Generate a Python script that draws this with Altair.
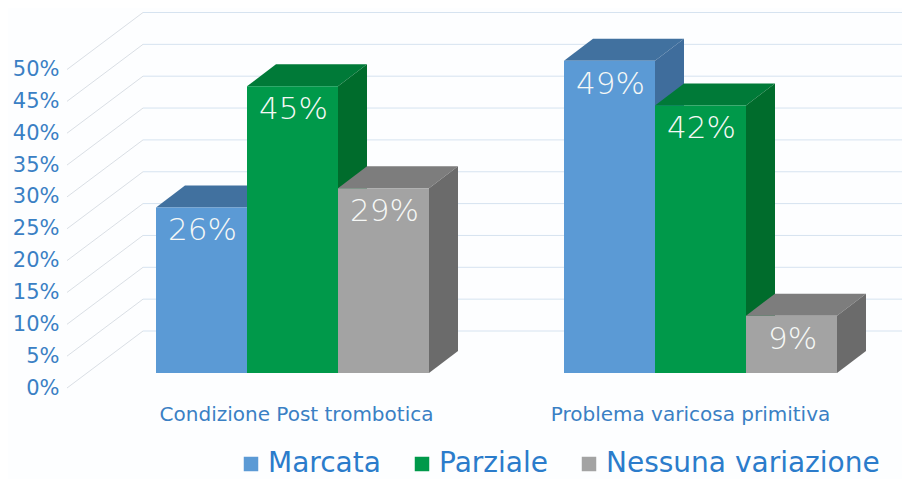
import altair as alt
import pandas as pd

categories = ["Condizione Post trombotica", "Problema varicosa primitiva"]
series = ["Marcata", "Parziale", "Nessuna variazione"]
marcata = [26, 49]
parziale = [45, 42]
nessuna = [29, 9]
tick_values = [0, 5, 10, 15, 20, 25, 30, 35, 40, 45, 50]

front_colors = ["#5B9AD5", "#00994A", "#A3A3A3"]
top_colors = ["#41719F", "#007A38", "#7D7D7D"]
side_colors = ["#3F6D9C", "#006C2C", "#6B6B6B"]
AXIS_BLUE = "#3A80C4"
LEGEND_BLUE = "#2B7CCB"
GRID = "#D6E3F0"
DIAG = "#DADFE5"
FONT = "DejaVu Sans"

# layout of the pseudo-3D scene, in scale units (bar width = 1, y in percent)
PX_X, PX_Y = 91.0, 6.37
W, H = 835, 380
x_domain = [0, W / PX_X]
y_domain = [-15 / PX_Y, 365 / PX_Y]
group_start = [89 / PX_X, 497 / PX_X]
label_center = [229 / PX_X, 623 / PX_X]
depth_x, depth_y = 29 / PX_X, 22 / PX_Y
back_x, back_y = 76 / PX_X, 42 / PX_Y
front_y = -15 / PX_Y

x_scale = alt.Scale(domain=x_domain, nice=False, zero=False)
y_scale = alt.Scale(domain=y_domain, nice=False, zero=False)
values = [marcata, parziale, nessuna]

grid = pd.DataFrame({"t": tick_values})
grid["fx"] = 0.0
grid["bx"] = back_x
grid["ex"] = x_domain[1]
grid["fy"] = grid["t"] + front_y
grid["by"] = grid["t"] + back_y

label_expr = (
    f"datum.value < {(label_center[0] + label_center[1]) / 2} "
    f"? '{categories[0]}' : '{categories[1]}'"
)
x_axis = alt.Axis(
    values=label_center, labelExpr=label_expr, domain=False, ticks=False,
    grid=False, labelPadding=16, labelFontSize=20, labelColor=AXIS_BLUE,
    labelFont=FONT, labelOverlap=False, labelFlush=False, title=None, labelLimit=0,
)
y_axis = alt.Axis(
    values=tick_values, labelExpr="datum.value + '%'", domain=False, ticks=False,
    grid=False, labelPadding=8, labelOffset=15, labelFontSize=21,
    labelColor=AXIS_BLUE, labelFont=FONT, labelOverlap=False, labelFlush=False, title=None,
)


def X(field):
    return alt.X(field, scale=x_scale, axis=x_axis, title=None)


def Y(field):
    return alt.Y(field, scale=y_scale, axis=y_axis, title=None)


diagonals = alt.Chart(grid).mark_rule(color=DIAG, strokeWidth=1).encode(
    x=X("fx:Q"), x2="bx:Q", y=Y("fy:Q"), y2="by:Q",
)
back_lines = alt.Chart(grid).mark_rule(color=GRID, strokeWidth=1).encode(
    x=X("bx:Q"), x2="ex:Q", y=Y("by:Q"),
)

layers = [diagonals, back_lines]
label_rows = []
for s, name in enumerate(series):
    front, side, top = [], [], []
    for c, cat in enumerate(categories):
        v = values[s][c]
        left = group_start[c] + s
        right = left + 1
        front.append({"series": name, "l": left, "r": right, "v": v, "base": 0})
        side += [
            {"id": c, "x": right, "lo": 0, "hi": v},
            {"id": c, "x": right + depth_x, "lo": depth_y, "hi": v + depth_y},
        ]
        top += [
            {"id": c, "y": v, "a": left, "b": right},
            {"id": c, "y": v + depth_y, "a": left + depth_x, "b": right + depth_x},
        ]
        label_rows.append({"x": left + 0.5, "y": v, "txt": f"{v}%"})

    layers.append(
        alt.Chart(pd.DataFrame(top)).mark_area(orient="horizontal", color=top_colors[s]).encode(
            y=Y("y:Q"), x=X("a:Q"), x2="b:Q", detail="id:N",
        )
    )
    layers.append(
        alt.Chart(pd.DataFrame(side)).mark_area(orient="vertical", color=side_colors[s]).encode(
            x=X("x:Q"), y=Y("lo:Q"), y2="hi:Q", detail="id:N",
        )
    )
    layers.append(
        alt.Chart(pd.DataFrame(front)).mark_rect().encode(
            x=X("l:Q"), x2="r:Q", y=Y("base:Q"), y2="v:Q",
            color=alt.Color(
                "series:N",
                scale=alt.Scale(domain=series, range=front_colors),
                legend=alt.Legend(
                    title=None, orient="none", direction="horizontal",
                    legendX=170, legendY=442, padding=0, columns=3,
                    symbolType="square", symbolSize=210, symbolStrokeWidth=0,
                    labelFontSize=28, labelFont=FONT, labelColor=LEGEND_BLUE,
                    labelOffset=3, columnPadding=27, labelLimit=400,
                    gridAlign="none",
                ),
            ),
        )
    )

layers.append(
    alt.Chart(pd.DataFrame(label_rows))
    .mark_text(color="#F6F8F6", fontSize=31, font=FONT, fontWeight=200, dx=1, dy=24, baseline="middle")
    .encode(x=X("x:Q"), y=Y("y:Q"), text="txt:N")
)

chart = (
    alt.layer(*layers)
    .properties(
        width=W, height=H,
        autosize=alt.AutoSizeParams(type="none"),
        padding={"left": 59, "top": 0, "right": 0, "bottom": 91},
        background="#FDFEFF",
    )
    .configure_view(stroke=None)
)

chart.save("out.html", embed_options={"renderer": "svg", "actions": False})
